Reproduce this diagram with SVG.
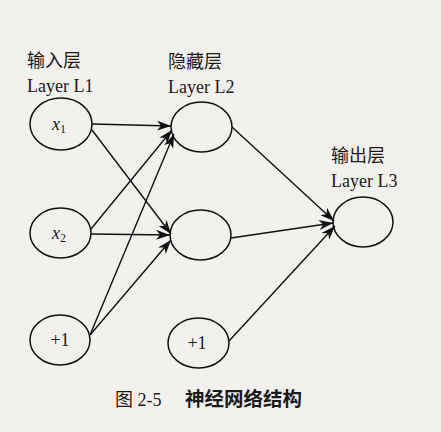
<svg xmlns="http://www.w3.org/2000/svg" width="441" height="432" viewBox="0 0 441 432">
<defs>
<marker id="arr" viewBox="0 0 14 10" refX="14" refY="5" markerWidth="14" markerHeight="10" markerUnits="userSpaceOnUse" orient="auto">
<path d="M0,0 L14,5 L0,10 L4,5 Z" fill="#111"/>
</marker>
<style>
.n{fill:none;stroke:#111;stroke-width:1.5}
.t{font-family:"Liberation Serif","Noto Sans CJK SC",serif;fill:#1a1a1a;font-size:18px}
.c{font-family:"Liberation Serif","Noto Sans CJK SC",serif;fill:#1a1a1a;font-size:18px;text-anchor:middle}
.e{stroke:#111;stroke-width:1.4;fill:none;marker-end:url(#arr)}
.cap1{font-family:"Liberation Serif","Noto Sans CJK SC",serif;fill:#1a1a1a;font-size:18px}
.cap2{font-family:"Noto Sans CJK SC",sans-serif;fill:#1a1a1a;font-size:19.5px;font-weight:bold}
</style>
</defs>
<rect width="441" height="432" fill="#f2f1ee"/>
<g id="labels">
<text class="t" x="27" y="67">输入层</text>
<text class="t" x="27" y="92">Layer L1</text>
<text class="t" x="168" y="68">隐藏层</text>
<text class="t" x="168" y="93">Layer L2</text>
<text class="t" x="331" y="162">输出层</text>
<text class="t" x="331" y="187">Layer L3</text>
</g>
<g id="connectors">
<line class="e" x1="92" y1="124" x2="171" y2="126"/>
<line class="e" x1="92" y1="130" x2="171" y2="234"/>
<line class="e" x1="91" y1="229" x2="172" y2="130"/>
<line class="e" x1="91" y1="234" x2="170" y2="235"/>
<line class="e" x1="90" y1="335" x2="174" y2="134"/>
<line class="e" x1="90" y1="335" x2="171" y2="240"/>
<line class="e" x1="232" y1="127" x2="334" y2="221"/>
<line class="e" x1="231" y1="238" x2="333" y2="223"/>
<line class="e" x1="229" y1="341" x2="335" y2="226"/>
</g>
<g id="x1"><ellipse class="n" cx="61" cy="124" rx="31" ry="26"/><text class="c" x="59" y="130"><tspan font-style="italic">x</tspan><tspan style="font-size:12px" dy="3">1</tspan></text></g>
<g id="x2"><ellipse class="n" cx="60.5" cy="233" rx="30.5" ry="25"/><text class="c" x="59" y="239"><tspan font-style="italic">x</tspan><tspan style="font-size:12px" dy="3">2</tspan></text></g>
<g id="b1"><ellipse class="n" cx="60" cy="340" rx="30" ry="25"/><text class="c" x="60" y="346">+1</text></g>
<g id="h1"><ellipse class="n" cx="201.5" cy="127" rx="30.5" ry="25"/></g>
<g id="h2"><ellipse class="n" cx="200.5" cy="235" rx="30.5" ry="25"/></g>
<g id="b2"><ellipse class="n" cx="198.5" cy="343" rx="30.5" ry="25"/><text class="c" x="197" y="349">+1</text></g>
<g id="out"><ellipse class="n" cx="363" cy="222" rx="30" ry="25"/></g>
<g id="caption">
<text class="cap1" x="115" y="406">图 2-5</text>
<text class="cap2" x="185" y="406">神经网络结构</text>
</g>
</svg>
